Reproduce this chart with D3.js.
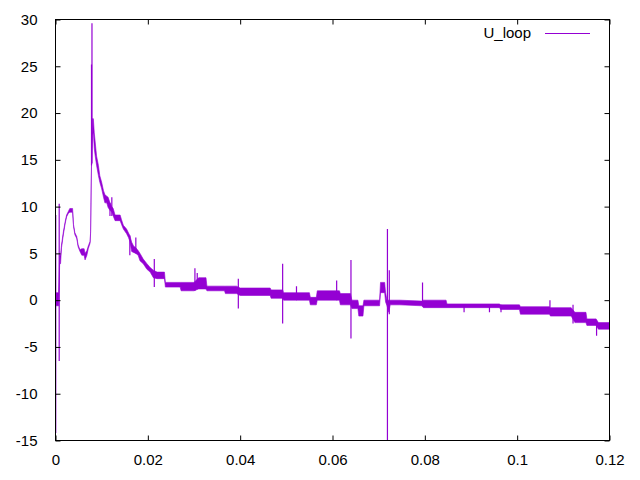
<!DOCTYPE html>
<html>
<head>
<meta charset="utf-8">
<script src="https://cdn.jsdelivr.net/npm/d3@7"></script>
<style>
  html, body { margin: 0; padding: 0; background: #fff; }
  svg { display: block; }
  text { font-family: "Liberation Sans", Arial, sans-serif; font-size: 15px; fill: #000; }
</style>
</head>
<body>
<svg id="chart" width="640" height="480"></svg>
<script>
// ---- data ----
const seriesName = "U_loop";
const xTicks = [0, 0.02, 0.04, 0.06, 0.08, 0.1, 0.12];
const xTickLabels = ["0", "0.02", "0.04", "0.06", "0.08", "0.1", "0.12"];
const yTicks = [-15, -10, -5, 0, 5, 10, 15, 20, 25, 30];
const yTickLabels = ["-15", "-10", "-5", "0", "5", "10", "15", "20", "25", "30"];

// envelope of the (rapidly toggling) signal: time, lower level, upper level
const time = [0.0000, 0.0007, 0.0009, 0.0011, 0.0013, 0.0017, 0.0021, 0.0024, 0.0028, 0.0031,
  0.0037, 0.0039, 0.0042, 0.0046, 0.0049, 0.0053, 0.0057, 0.0062, 0.0064, 0.0068,
  0.0071, 0.0075, 0.0076, 0.0078, 0.0080, 0.0082, 0.0084, 0.0086, 0.0089, 0.0093,
  0.0096, 0.0100, 0.0104, 0.0107, 0.0111, 0.0114, 0.0118, 0.0122, 0.0125, 0.0129,
  0.0140, 0.0143, 0.0147, 0.0154, 0.0158, 0.0161, 0.0165, 0.0169, 0.0174, 0.0179,
  0.0183, 0.0190, 0.0198, 0.0205, 0.0212, 0.0220, 0.0236, 0.0238, 0.0270, 0.0272,
  0.0300, 0.0310, 0.0326, 0.0328, 0.0366, 0.0368, 0.0392, 0.0400, 0.0465, 0.0467,
  0.0492, 0.0494, 0.0550, 0.0552, 0.0565, 0.0567, 0.0615, 0.0617, 0.0639, 0.0642,
  0.0655, 0.0657, 0.0666, 0.0668, 0.0702, 0.0704, 0.0713, 0.0715, 0.0718, 0.0722,
  0.0725, 0.0746, 0.0793, 0.0797, 0.0846, 0.0848, 0.0962, 0.0964, 0.1005, 0.1007,
  0.1070, 0.1072, 0.1117, 0.1125, 0.1149, 0.1151, 0.1171, 0.1176, 0.1200];
const uLow = [-0.6, -0.6, 3.9, 3.9, 5.6, 7.0, 8.2, 8.9, 9.3, 9.4,
  9.4, 7.9, 7.0, 6.6, 5.7, 5.2, 4.8, 4.8, 4.3, 4.8,
  5.5, 6.1, 7.1, 14.4, 17.6, 17.9, 16.2, 15.4, 14.4, 13.3,
  12.6, 11.9, 11.0, 10.4, 10.4, 9.9, 9.6, 9.4, 9.0, 8.5,
  8.5, 8.1, 7.6, 7.1, 6.7, 6.3, 5.2, 5.1, 5.0, 4.8,
  4.2, 3.9, 3.3, 3.0, 2.4, 2.3, 2.3, 1.4, 1.4, 1.0,
  1.0, 1.2, 1.2, 1.0, 1.0, 0.7, 0.7, 0.5, 0.5, 0.2,
  0.2, 0.0, 0.0, -0.5, -0.5, 0.0, 0.0, -0.5, -0.5, -0.9,
  -0.9, -1.7, -1.7, -0.6, -0.6, 0.8, 0.8, -0.2, -0.6, -1.3,
  -0.5, -0.5, -0.6, -0.8, -0.8, -0.8, -0.8, -1.0, -1.0, -1.5,
  -1.5, -1.7, -1.7, -2.4, -2.4, -2.7, -2.7, -3.1, -3.1];
const uHigh = [0.8, 0.8, 4.8, 4.8, 5.9, 7.3, 8.4, 9.1, 9.5, 9.8,
  9.8, 8.1, 7.2, 6.8, 5.9, 5.4, 5.5, 5.5, 5.0, 5.3,
  5.8, 6.3, 7.3, 14.6, 19.4, 19.4, 17.9, 16.9, 15.4, 14.4,
  13.3, 12.6, 11.7, 11.3, 11.1, 11.0, 10.4, 10.0, 9.8, 9.1,
  9.1, 8.6, 8.0, 7.6, 7.2, 6.9, 6.2, 5.8, 5.6, 5.3,
  5.0, 4.4, 3.9, 3.5, 3.2, 3.0, 3.0, 1.9, 1.9, 1.9,
  1.9, 2.4, 2.4, 1.5, 1.5, 1.5, 1.5, 1.3, 1.3, 1.1,
  1.1, 0.8, 0.8, 0.3, 0.3, 1.0, 1.0, 0.7, 0.7, 0.0,
  0.0, -0.6, -0.6, 0.0, 0.0, 1.9, 1.9, 0.8, 0.0, 0.0,
  0.0, 0.0, -0.1, 0.0, 0.0, -0.4, -0.4, -0.5, -0.5, -0.7,
  -0.7, -0.8, -0.8, -1.3, -1.3, -2.0, -2.0, -2.4, -2.4];

// isolated spikes: time, lowest value, highest value
const spikeTime = [0.00005, 0.0008, 0.0078, 0.0079, 0.0118, 0.0122, 0.0161, 0.0174, 0.0214, 0.0302,
  0.0307, 0.0396, 0.0492, 0.0522, 0.0609, 0.0640, 0.0719, 0.0723, 0.0795, 0.0885,
  0.0940, 0.0965, 0.1071, 0.1121, 0.1172];
const spikeLow = [-14.2, -6.5, 14.4, 14.6, 9.0, 9.0, 4.8, 5.0, 1.4, 1.0,
  1.2, -0.9, -2.5, 0.0, 0.0, -4.1, -15.0, -1.5, -0.1, -1.3,
  -1.3, -1.3, -0.8, -2.5, -3.8];
const spikeHigh = [9.1, 10.3, 25.2, 29.6, 10.4, 11.0, 6.9, 6.7, 4.4, 3.4,
  2.9, 2.3, 3.9, 1.5, 2.1, 4.3, 7.6, 3.2, 1.9, -0.4,
  -0.4, -0.5, 0.0, -0.5, -2.4];

// ---- drawing ----
const color = "#9400D3";
const L = 55.5, R = 609.5, T = 19.5, B = 440.5;
const svg = d3.select("#chart");

const x = d3.scaleLinear().domain([0, 0.12]).range([L, R]);
const y = d3.scaleLinear().domain([-15, 30]).range([B, T]);

const clip = svg.append("defs").append("clipPath").attr("id", "plotclip");
clip.append("rect").attr("x", L).attr("y", T).attr("width", R - L).attr("height", B - T);

const envelope = time.map((t, i) => ({ t, lo: uLow[i], hi: uHigh[i] }));
const area = d3.area().x(d => x(d.t)).y0(d => y(d.lo)).y1(d => y(d.hi));

const plot = svg.append("g").attr("clip-path", "url(#plotclip)");
plot.append("path")
  .datum(envelope)
  .attr("d", area)
  .attr("fill", color)
  .attr("stroke", color)
  .attr("stroke-width", 0.6)
  .attr("stroke-linejoin", "round");

plot.selectAll("line.spike")
  .data(spikeTime.map((t, i) => ({ t, lo: spikeLow[i], hi: spikeHigh[i] })))
  .join("line")
  .attr("class", "spike")
  .attr("x1", d => x(d.t)).attr("x2", d => x(d.t))
  .attr("y1", d => y(d.lo)).attr("y2", d => y(d.hi))
  .attr("stroke", color)
  .attr("stroke-width", 1.2);

// axes (ticks point inward, mirrored on top/right)
const tickLen = 5;
const fmtX = (d, i) => xTickLabels[i];
const fmtY = (d, i) => yTickLabels[i];

const axB = svg.append("g").attr("transform", `translate(0,${B})`)
  .call(d3.axisBottom(x).tickValues(xTicks).tickFormat(fmtX).tickSizeInner(-tickLen).tickSizeOuter(0).tickPadding(14));
const axT = svg.append("g").attr("transform", `translate(0,${T})`)
  .call(d3.axisTop(x).tickValues(xTicks).tickFormat("").tickSizeInner(-tickLen).tickSizeOuter(0));
const axL = svg.append("g").attr("transform", `translate(${L},0)`)
  .call(d3.axisLeft(y).tickValues(yTicks).tickFormat(fmtY).tickSizeInner(-tickLen).tickSizeOuter(0).tickPadding(18));
const axR = svg.append("g").attr("transform", `translate(${R},0)`)
  .call(d3.axisRight(y).tickValues(yTicks).tickFormat("").tickSizeInner(-tickLen).tickSizeOuter(0));

[axB, axT, axL, axR].forEach(g => {
  g.select(".domain").remove();
  g.selectAll(".tick line").attr("stroke", "#000").attr("stroke-width", 1);
  g.selectAll("text").attr("font-family", "Liberation Sans, Arial, sans-serif").attr("font-size", 15).attr("fill", "#000");
});

svg.append("rect")
  .attr("x", L).attr("y", T).attr("width", R - L).attr("height", B - T)
  .attr("fill", "none").attr("stroke", "#000").attr("stroke-width", 1);

// legend
const leg = svg.append("g");
leg.append("text").attr("x", 531).attr("y", 38).attr("text-anchor", "end").text(seriesName);
leg.append("line").attr("x1", 545).attr("x2", 590).attr("y1", 33.5).attr("y2", 33.5)
  .attr("stroke", color).attr("stroke-width", 1);
</script>
</body>
</html>
